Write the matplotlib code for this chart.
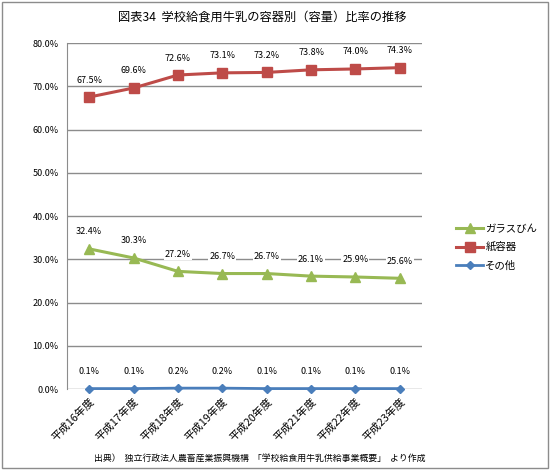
import matplotlib
matplotlib.use('Agg')
import matplotlib.pyplot as plt
from matplotlib.patches import Rectangle

plt.rcParams['font.family'] = ['Noto Sans CJK JP', 'DejaVu Sans']

years = ['平成16年度', '平成17年度', '平成18年度', '平成19年度',
         '平成20年度', '平成21年度', '平成22年度', '平成23年度']
glass = [32.4, 30.3, 27.2, 26.7, 26.7, 26.1, 25.9, 25.6]
paper = [67.5, 69.6, 72.6, 73.1, 73.2, 73.8, 74.0, 74.3]
other = [0.1, 0.1, 0.2, 0.2, 0.1, 0.1, 0.1, 0.1]
yticks = [0, 10, 20, 30, 40, 50, 60, 70, 80]

series = [
    ('ガラスびん', glass, '#98B954', '^', 6.5, 2.2),
    ('紙容器', paper, '#BE4B48', 's', 6.5, 2.2),
    ('その他', other, '#4A7EBB', 'D', 4.5, 2.0),
]

fig = plt.figure(figsize=(5.5, 4.7), dpi=100, facecolor='white')
fig.patches.append(Rectangle((0.004, 0.004), 0.992, 0.992, transform=fig.transFigure,
                             fill=False, edgecolor='#8c8c8c', lw=1.0))

ax = fig.add_axes([0.1218, 0.1723, 0.6455, 0.7362])
x = list(range(len(years)))

for name, vals, col, mk, ms, lw in series:
    ax.plot(x, vals, color=col, marker=mk, ms=ms, lw=lw, label=name,
            zorder=3, clip_on=False)
    for xi, v in zip(x, vals):
        ax.annotate(f'{v:.1f}%', xy=(xi, v), xytext=(0, 9),
                    textcoords='offset points', ha='center', va='bottom',
                    fontsize=6.5, color='black', zorder=4,
                    bbox=dict(boxstyle='square,pad=0.1', fc='white', ec='none'))

ax.set_xlim(-0.5, len(years) - 0.5)
ax.set_ylim(0, 80)
ax.set_yticks(yticks)
ax.set_yticklabels([f'{t:.1f}%' for t in yticks], fontsize=6.5)
ax.set_xticks(x)
ax.set_xticklabels(years, rotation=45, ha='right', rotation_mode='anchor',
                   fontsize=7.8)
ax.tick_params(axis='y', length=0, pad=6)
ax.tick_params(axis='x', length=0, pad=5)
ax.grid(axis='y', color='#8c8c8c', lw=1.0)
ax.set_axisbelow(True)
for s in ['top', 'right', 'bottom']:
    ax.spines[s].set_visible(False)
ax.spines['left'].set_color('#8c8c8c')

ax.legend(loc='center left', bbox_to_anchor=(1.07, 0.41), frameon=False,
          fontsize=7.5, handlelength=2.6, handletextpad=0.2, labelspacing=0.8)

fig.text(0.476, 0.963, '図表34  学校給食用牛乳の容器別（容量）比率の推移',
         ha='center', va='center', fontsize=8.8)
fig.text(0.473, 0.025, '出典）  独立行政法人農畜産業振興機構  「学校給食用牛乳供給事業概要」  より作成',
         ha='center', va='center', fontsize=6.4)

fig.savefig('out.png', dpi=100, facecolor='white')
